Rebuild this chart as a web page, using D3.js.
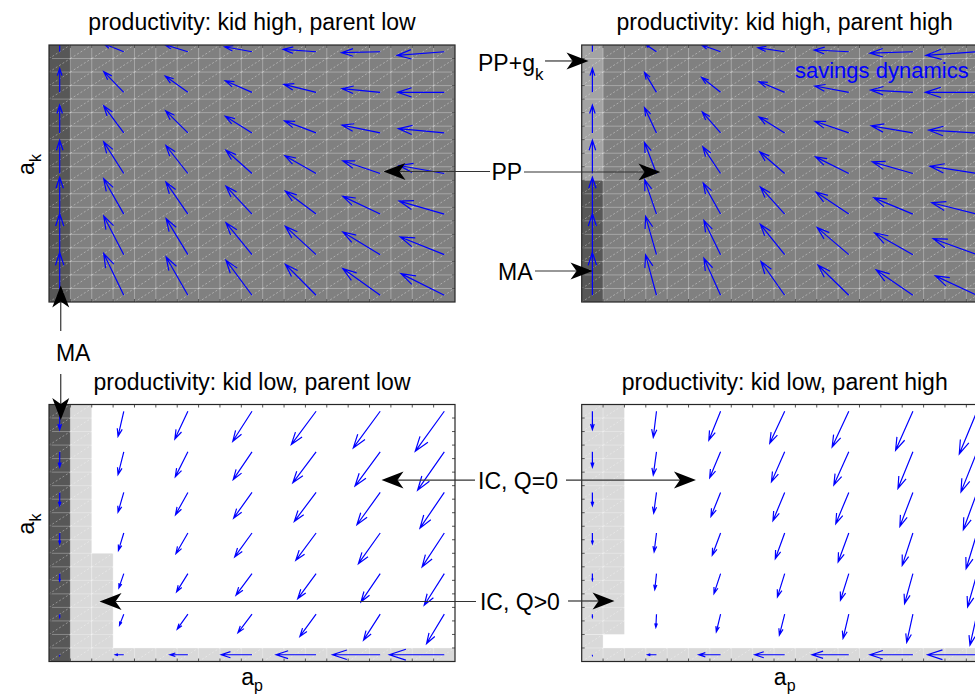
<!DOCTYPE html>
<html><head><meta charset="utf-8">
<script src="https://cdn.jsdelivr.net/npm/d3@7"></script>
<style>body{margin:0;background:#fff} svg{display:block;font-family:"Liberation Sans",Arial,Helvetica,sans-serif}</style>
</head><body><svg id="c" width="975" height="696"></svg>
<script>
// ---------- data ----------
const nCells = 19;                       // mesh cells per axis
const arrowIdx = [0,3,6,9,12,15,18];     // quiver sample cells (a_p and a_k)
const titles = ["productivity: kid high, parent low","productivity: kid high, parent high",
                "productivity: kid low, parent low","productivity: kid low, parent high"];
// regions: [col0, col1, row0, row1, kind] in cell units
const regionsTL = [[0,19,0,19,"PP"],[0,1,0,19,"MA"]];
const regionsTR = [[0,19,0,19,"PP"],[0,1,0,9,"MA"],[0,1,9,19,"PPg"]];
const regionsBL = [[0,19,0,19,"IC0"],[1,2,0,19,"ICQ"],[2,3,0,8,"ICQ"],[0,19,0,1,"ICQ"],[0,1,0,19,"MA"]];
const regionsBR = [[0,19,0,19,"IC0"],[0,2,2,19,"ICQ"],[0,1,0,2,"ICQ"],[0,19,0,1,"ICQ"]];
// savings dynamics: U[col][row], V[col][row] (a_p, a_k units; rows bottom->top)
const U_TL = [[0,0,0,0,0,0,0],
 [-0.94,-0.94,-0.94,-0.94,-0.94,-0.94,-0.94],
 [-1.02,-1.02,-1.03,-1.03,-1.04,-1.06,-1.08],
 [-1.22,-1.22,-1.22,-1.22,-1.25,-1.25,-1.28],
 [-1.44,-1.44,-1.44,-1.46,-1.48,-1.51,-1.54],
 [-1.75,-1.75,-1.75,-1.75,-1.79,-1.79,-1.81],
 [-2.03,-2.06,-2.11,-2.11,-2.15,-2.19,-2.21]];
const V_TL = [[3.16,3.03,2.73,2.46,2.05,1.77,1.48],
 [3.08,2.86,2.61,2.34,2.00,1.53,0.59],
 [2.83,2.66,2.36,2.07,1.63,1.20,0.52],
 [2.59,2.36,2.07,1.72,1.23,0.86,0.37],
 [2.29,2.09,1.70,1.31,0.89,0.59,0.17],
 [1.97,1.68,1.31,0.94,0.57,0.27,-0.07],
 [1.60,1.31,0.96,0.59,0.32,0.00,-0.27]];
const U_TR = [[0,0,0,0,0,0,0],
 [-0.51,-0.51,-0.55,-0.56,-0.56,-0.56,-0.51],
 [-0.78,-0.78,-0.81,-0.83,-0.86,-0.89,-0.89],
 [-1.11,-1.14,-1.14,-1.17,-1.20,-1.20,-1.25],
 [-1.44,-1.48,-1.54,-1.56,-1.59,-1.59,-1.62],
 [-1.72,-1.79,-1.83,-1.90,-1.95,-1.98,-2.01],
 [-1.95,-2.05,-2.12,-2.20,-2.26,-2.42,-2.39]];
const V_TR = [[3.16,3.03,2.73,2.46,2.05,1.77,1.48],
 [2.98,2.83,2.53,2.29,1.87,1.48,0.54],
 [2.73,2.53,2.29,1.97,1.55,1.11,0.50],
 [2.49,2.24,2.00,1.60,1.18,0.79,0.30],
 [2.22,2.00,1.63,1.23,0.86,0.47,0.13],
 [1.87,1.60,1.20,0.86,0.52,0.17,-0.10],
 [1.43,1.18,0.84,0.54,0.20,0.00,-0.27]];
const U_BL = [[0,0,0,0,0,0,0],
 [-0.39,-0.20,-0.23,-0.25,-0.27,-0.27,-0.27],
 [-0.84,-0.50,-0.53,-0.56,-0.58,-0.59,-0.61],
 [-1.44,-0.66,-0.75,-0.81,-0.86,-0.88,-0.90],
 [-1.87,-0.76,-0.86,-0.95,-1.02,-1.09,-1.16],
 [-2.23,-0.78,-0.90,-1.02,-1.09,-1.18,-1.26],
 [-2.57,-0.83,-0.94,-1.04,-1.14,-1.25,-1.36]];
const V_BL = [[-0.04,-0.24,-0.54,-0.79,-0.98,-1.13,-1.35],
 [0,-0.81,-1.06,-1.28,-1.46,-1.68,-1.85],
 [0,-1.11,-1.35,-1.53,-1.65,-1.85,-2.05],
 [0,-1.38,-1.60,-1.77,-1.90,-2.05,-2.22],
 [0,-1.65,-1.85,-2.02,-2.14,-2.29,-2.46],
 [0,-1.92,-2.09,-2.27,-2.39,-2.53,-2.71],
 [0,-2.17,-2.34,-2.51,-2.64,-2.83,-2.96]];
const U_BR = [[0,0,0,0,0,0,0],
 [-0.41,-0.03,-0.08,-0.11,-0.13,-0.15,-0.15],
 [-1.02,-0.20,-0.31,-0.39,-0.45,-0.51,-0.55],
 [-1.40,-0.25,-0.34,-0.44,-0.55,-0.62,-0.70],
 [-1.72,-0.27,-0.39,-0.50,-0.61,-0.70,-0.78],
 [-2.01,-0.29,-0.39,-0.50,-0.61,-0.70,-0.81],
 [-2.31,-0.33,-0.44,-0.51,-0.64,-0.75,-0.83]];
const V_BR = [[-0.04,-0.24,-0.50,-0.79,-0.98,-1.13,-1.35],
 [0,-0.98,-1.18,-1.40,-1.53,-1.72,-1.92],
 [0,-1.31,-1.48,-1.65,-1.77,-1.92,-2.14],
 [0,-1.55,-1.72,-1.90,-2.09,-2.22,-2.36],
 [0,-1.80,-1.97,-2.14,-2.31,-2.46,-2.64],
 [0,-2.09,-2.22,-2.39,-2.51,-2.71,-2.88],
 [0,-2.29,-2.46,-2.64,-2.76,-2.96,-3.16]];
// annotations in normalized figure units: [x0,y0,x1(tip),y1(tip)]
const annoArrows = [
 [0.5026,0.2464,0.3933,0.2464],[0.5374,0.2471,0.6774,0.2471],
 [0.5590,0.0876,0.6036,0.0876],[0.5487,0.3894,0.6077,0.3894],
 [0.0623,0.4756,0.0623,0.4102],[0.0623,0.5374,0.0623,0.6034],
 [0.4872,0.6897,0.3913,0.6897],[0.5805,0.6897,0.7138,0.6897],
 [0.4882,0.8642,0.1021,0.8642],[0.5826,0.8635,0.6303,0.8635]];
const annoTexts = [
 {t:"PP+g", sub:"k", x:0.4903, y:0.1013},
 {t:"PP", x:0.5041, y:0.2586},
 {t:"MA", x:0.5108, y:0.4023},
 {t:"MA", x:0.0574, y:0.5187},
 {t:"IC, Q=0", x:0.4903, y:0.7026},
 {t:"IC, Q>0", x:0.4923, y:0.8764}];

// ---------- layout / style ----------
const W = 975, H = 696;
const fig = {x: d3.scaleLinear([0,1],[0,W]), y: d3.scaleLinear([0,1],[0,H])};
const PW = 406, PH = 257;
const panels = [
 {title:titles[0], left:49,    top:45,    regions:regionsTL, U:U_TL, V:V_TL, xl:false},
 {title:titles[1], left:581.7, top:45,    regions:regionsTR, U:U_TR, V:V_TR, xl:false},
 {title:titles[2], left:49,    top:404.5, regions:regionsBL, U:U_BL, V:V_BL, xl:true},
 {title:titles[3], left:581.7, top:404.5, regions:regionsBR, U:U_BR, V:V_BR, xl:true}];
const regionColor = {MA:"#575757", PP:"#808080", PPg:"#a3a3a3", IC0:"#ffffff", ICQ:"#d9d9d9"};
const FS = 23;

const svg = d3.select("#c");
svg.append("rect").attr("width",W).attr("height",H).attr("fill","#fff");

panels.forEach((p,pi) => {
  const x = d3.scaleLinear([0,nCells],[p.left, p.left+PW]);
  const y = d3.scaleLinear([0,nCells],[p.top+PH, p.top]);
  const g = svg.append("g");
  const cid = "clip"+pi;
  svg.append("clipPath").attr("id",cid).append("rect")
     .attr("x",p.left).attr("y",p.top).attr("width",PW).attr("height",PH);
  const body = g.append("g").attr("clip-path",`url(#${cid})`);
  // regions
  body.selectAll("rect.reg").data(p.regions).join("rect").attr("class","reg")
    .attr("x",d=>x(d[0])).attr("width",d=>x(d[1])-x(d[0]))
    .attr("y",d=>y(d[3])).attr("height",d=>y(d[2])-y(d[3]))
    .attr("fill",d=>regionColor[d[4]]);
  // mesh lines
  const ks = d3.range(1,nCells);
  body.append("path").attr("d", ks.map(k=>`M${x(k)},${y(0)}V${y(nCells)}M${x(0)},${y(k)}H${x(nCells)}`).join(""))
    .attr("stroke","#fff").attr("stroke-opacity",0.3).attr("stroke-width",1).attr("fill","none");
  let dd = "";
  for (let i=0;i<nCells;i++) for (let j=0;j<nCells;j++)
    dd += `M${x(i)},${y(j)}L${x(i+1)},${y(j+1)}`;
  body.append("path").attr("d",dd).attr("stroke","#fff").attr("stroke-opacity",0.45)
    .attr("stroke-width",0.8).attr("stroke-dasharray","2,2").attr("fill","none");
  // quiver
  const arrows = [];
  arrowIdx.forEach((ci,c) => arrowIdx.forEach((rj,r) => {
    arrows.push({x0:ci+0.5, y0:rj+0.5, u:p.U[c][r], v:p.V[c][r]});
  }));
  const alpha = 0.3, beta = 0.33;
  body.selectAll("path.q").data(arrows).join("path").attr("class","q")
    .attr("d", d => {
      const X0 = x(d.x0), Y0 = y(d.y0), X1 = x(d.x0+d.u), Y1 = y(d.y0+d.v);
      const dx = X1-X0, dy = Y1-Y0;
      const b1x = X1 - alpha*(dx + beta*dy), b1y = Y1 - alpha*(dy - beta*dx);
      const b2x = X1 - alpha*(dx - beta*dy), b2y = Y1 - alpha*(dy + beta*dx);
      return `M${X0},${Y0}L${X1},${Y1}M${b1x},${b1y}L${X1},${Y1}L${b2x},${b2y}`;
    })
    .attr("stroke","#0000ff").attr("stroke-width",1.2).attr("fill","none");
  // ticks (inward)
  let td = "";
  ks.forEach(k => {
    td += `M${x(k)},${y(0)}v-3M${x(k)},${y(nCells)}v3M${x(0)},${y(k)}h3M${x(nCells)},${y(k)}h-3`;
  });
  g.append("path").attr("d",td).attr("stroke","#555").attr("stroke-width",1).attr("fill","none");
  // frame
  g.append("rect").attr("x",p.left).attr("y",p.top).attr("width",PW).attr("height",PH)
    .attr("fill","none").attr("stroke","#262626").attr("stroke-width",1.2);
  // title
  g.append("text").attr("x",p.left+PW/2).attr("y",p.top-15).attr("text-anchor","middle")
    .attr("font-size",FS).attr("fill","#000").text(p.title);
  // x label
  if (p.xl) {
    const t = g.append("text").attr("x",p.left+PW/2).attr("y",p.top+PH+23.5)
      .attr("text-anchor","middle").attr("font-size",FS);
    t.append("tspan").text("a");
    t.append("tspan").attr("font-size",16).attr("dy",6).text("p");
  }
  // y label
  if (pi%2===0) {
    const cy = p.top + PH/2 - 9;
    const t = g.append("text").attr("transform",`translate(34,${cy}) rotate(-90)`)
      .attr("text-anchor","middle").attr("font-size",FS);
    t.append("tspan").text("a");
    t.append("tspan").attr("font-size",16).attr("dy",7).text("k");
  }
  if (pi===1) {
    g.append("text").attr("x",fig.x(0.8154)).attr("y",fig.y(0.1121)).attr("font-size",22)
      .attr("fill","#0000ff").text("savings dynamics");
  }
});

// annotations
const ann = svg.append("g");
annoArrows.forEach(a => {
  const X0 = fig.x(a[0]), Y0 = fig.y(a[1]), X1 = fig.x(a[2]), Y1 = fig.y(a[3]);
  const L = Math.hypot(X1-X0, Y1-Y0), ux = (X1-X0)/L, uy = (Y1-Y0)/L, nx = -uy, ny = ux;
  const HL = 22, HW = 8.5, NT = 16;
  ann.append("line").attr("x1",X0).attr("y1",Y0).attr("x2",X1-ux*NT).attr("y2",Y1-uy*NT)
    .attr("stroke","#333").attr("stroke-width",1.2);
  ann.append("path").attr("d",`M${X1},${Y1}L${X1-HL*ux+HW*nx},${Y1-HL*uy+HW*ny}L${X1-NT*ux},${Y1-NT*uy}L${X1-HL*ux-HW*nx},${Y1-HL*uy-HW*ny}Z`)
    .attr("fill","#000");
});
annoTexts.forEach(a => {
  const t = ann.append("text").attr("x",fig.x(a.x)).attr("y",fig.y(a.y)).attr("font-size",FS).attr("fill","#000");
  t.append("tspan").text(a.t);
  if (a.sub) t.append("tspan").attr("font-size",17).attr("dy",9).text(a.sub);
});
</script></body></html>
